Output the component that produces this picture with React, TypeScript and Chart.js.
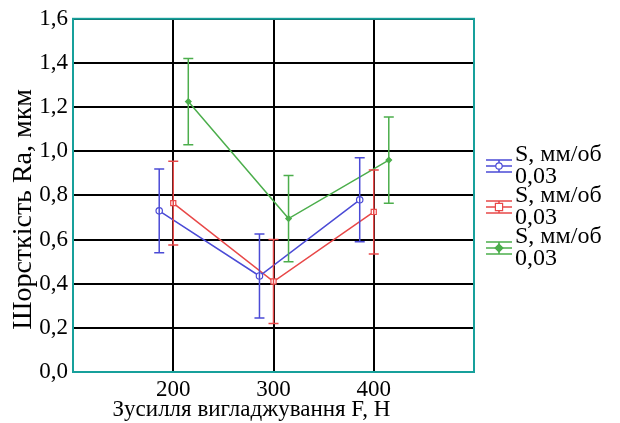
import React, { useEffect, useRef } from 'react';
import { Chart, registerables } from 'chart.js';

Chart.register(...registerables);

// ---- data ----
const forces = [200, 300, 400];
const xTickValues = [200, 300, 400];
const legendLines = ['S, мм/об', '0,03'];
const xTitle = 'Зусилля вигладжування F, Н';
const yTitle = 'Шорсткість Ra, мкм';

const blueValues = [0.73, 0.435, 0.78];
const blueErrors = [0.19, 0.19, 0.19];
const redValues = [0.765, 0.41, 0.725];
const redErrors = [0.19, 0.19, 0.19];
const greenValues = [1.225, 0.695, 0.96];
const greenErrors = [0.195, 0.195, 0.195];

// horizontal dodge of each series (in force units)
const dodges = [-14, 0, 15];

const FONT = "'Liberation Serif', 'Times New Roman', serif";
const TEAL = '#17a09b';
const BLUE = '#4b4bd6';
const RED = '#e84848';
const GREEN = '#4cae4c';

const seriesDefs = [
  { values: blueValues, errors: blueErrors, color: BLUE, style: 'circle', radius: 3.2 },
  { values: redValues, errors: redErrors, color: RED, style: 'rect', radius: 3.6 },
  { values: greenValues, errors: greenErrors, color: GREEN, style: 'rectRot', radius: 2.8 },
];

function drawMarker(ctx: CanvasRenderingContext2D, style: string, r: number, x: number, y: number) {
  ctx.beginPath();
  if (style === 'circle') {
    ctx.arc(x, y, r, 0, Math.PI * 2);
  } else if (style === 'rect') {
    ctx.rect(x - r, y - r, 2 * r, 2 * r);
  } else {
    ctx.moveTo(x, y - r * 1.4);
    ctx.lineTo(x + r * 1.4, y);
    ctx.lineTo(x, y + r * 1.4);
    ctx.lineTo(x - r * 1.4, y);
    ctx.closePath();
  }
  ctx.fill();
  ctx.stroke();
}

const errorBarPlugin = {
  id: 'errorBars',
  afterDatasetsDraw(chart: any) {
    const { ctx } = chart;
    const yScale = chart.scales.y;
    chart.data.datasets.forEach((ds: any, di: number) => {
      const meta = chart.getDatasetMeta(di);
      const errs: number[] = ds.errors;
      meta.data.forEach((el: any, i: number) => {
        const v = ds.data[i].y;
        const e = errs[i];
        const yTop = yScale.getPixelForValue(v + e);
        const yBot = yScale.getPixelForValue(v - e);
        const x = el.x;
        ctx.save();
        ctx.strokeStyle = ds.borderColor;
        ctx.lineWidth = 1.5;
        ctx.beginPath();
        ctx.moveTo(x, yTop);
        ctx.lineTo(x, yBot);
        ctx.moveTo(x - 5, yTop);
        ctx.lineTo(x + 5, yTop);
        ctx.moveTo(x - 5, yBot);
        ctx.lineTo(x + 5, yBot);
        ctx.stroke();
        ctx.restore();
      });
    });
  },
};

const framePlugin = {
  id: 'frame',
  beforeDatasetsDraw(chart: any) {
    const { ctx, chartArea: a } = chart;
    ctx.save();
    ctx.strokeStyle = TEAL;
    ctx.lineWidth = 2;
    ctx.strokeRect(a.left, a.top, a.right - a.left, a.bottom - a.top);
    ctx.restore();
  },
};

const titlesPlugin = {
  id: 'axisTitles',
  afterDraw(chart: any) {
    const { ctx, chartArea: a } = chart;
    ctx.save();
    ctx.fillStyle = '#000';
    ctx.textAlign = 'center';
    ctx.textBaseline = 'middle';
    ctx.font = `23px ${FONT}`;
    ctx.fillText(xTitle, (a.left + a.right) / 2 - 22, a.bottom + 38);
    ctx.translate(24, (a.top + a.bottom) / 2 + 14);
    ctx.rotate(-Math.PI / 2);
    ctx.font = `28px ${FONT}`;
    ctx.fillText(yTitle, 0, 0);
    ctx.restore();
  },
};

const legendPlugin = {
  id: 'customLegend',
  afterDraw(chart: any) {
    const { ctx } = chart;
    const x0 = 486;
    const symW = 26;
    const startY = 166;
    const gap = 41;
    chart.data.datasets.forEach((ds: any, i: number) => {
      const cy = startY + i * gap;
      const cx = x0 + symW / 2;
      ctx.save();
      ctx.strokeStyle = ds.borderColor;
      ctx.lineWidth = 1.5;
      ctx.beginPath();
      ctx.moveTo(x0, cy - 6);
      ctx.lineTo(x0 + symW, cy - 6);
      ctx.moveTo(x0, cy);
      ctx.lineTo(x0 + symW, cy);
      ctx.moveTo(x0, cy + 6);
      ctx.lineTo(x0 + symW, cy + 6);
      ctx.moveTo(cx, cy - 6);
      ctx.lineTo(cx, cy + 6);
      ctx.stroke();
      ctx.restore();
      ctx.save();
      ctx.strokeStyle = ds.borderColor;
      ctx.fillStyle = ds.pointBackgroundColor;
      ctx.lineWidth = 1.2;
      drawMarker(ctx, ds.pointStyle, ds.pointRadius, cx, cy);
      ctx.restore();
      ctx.save();
      ctx.fillStyle = '#000';
      ctx.font = `24px ${FONT}`;
      ctx.textBaseline = 'middle';
      ctx.textAlign = 'left';
      ctx.fillText(legendLines[0], x0 + symW + 3, cy - 11);
      ctx.fillText(legendLines[1], x0 + symW + 3, cy + 11);
      ctx.restore();
    });
  },
};

export default function App() {
  const ref = useRef<HTMLCanvasElement | null>(null);

  useEffect(() => {
    document.body.style.margin = '0';
    document.body.style.overflow = 'hidden';
    if (!ref.current) return;
    const datasets = seriesDefs.map((s, si) => ({
      label: legendLines.join(' '),
      data: forces.map((f, i) => ({ x: f + dodges[si], y: s.values[i] })),
      errors: s.errors,
      borderColor: s.color,
      backgroundColor: s.color,
      pointBackgroundColor: si === 2 ? s.color : '#ffffff',
      pointBorderColor: s.color,
      pointStyle: s.style,
      pointRadius: s.radius,
      pointBorderWidth: 1.2,
      borderWidth: 1.5,
      showLine: true,
      tension: 0,
    }));

    const chart = new Chart(ref.current, {
      type: 'scatter',
      data: { datasets: datasets as any },
      options: {
        responsive: false,
        animation: false,
        layout: { padding: { left: 0, top: 17, right: 146, bottom: 0 } },
        plugins: {
          legend: { display: false },
          tooltip: { enabled: false },
        },
        scales: {
          x: {
            type: 'linear',
            min: 100,
            max: 500,
            afterBuildTicks: (scale: any) => {
              scale.ticks = xTickValues.map((v) => ({ value: v }));
            },
            afterFit: (scale: any) => {
              scale.height = 51;
            },
            grid: { color: '#000', lineWidth: 2, drawTicks: false },
            border: { display: false },
            ticks: {
              color: '#000',
              padding: 4,
              font: { family: FONT, size: 23 },
              callback: (v: any) => String(v),
            },
            title: { display: false },
          },
          y: {
            min: 0,
            max: 1.6,
            afterFit: (scale: any) => {
              scale.width = 73;
            },
            grid: { color: '#000', lineWidth: 2, drawTicks: false },
            border: { display: false },
            ticks: {
              stepSize: 0.2,
              color: '#000',
              padding: 5,
              font: { family: FONT, size: 23 },
              callback: (v: any) => Number(v).toFixed(1).replace('.', ','),
            },
            title: { display: false },
          },
        },
      },
      plugins: [framePlugin, errorBarPlugin, titlesPlugin, legendPlugin],
    });
    return () => chart.destroy();
  }, []);

  return <canvas ref={ref} width={620} height={423} style={{ display: 'block' }} />;
}
